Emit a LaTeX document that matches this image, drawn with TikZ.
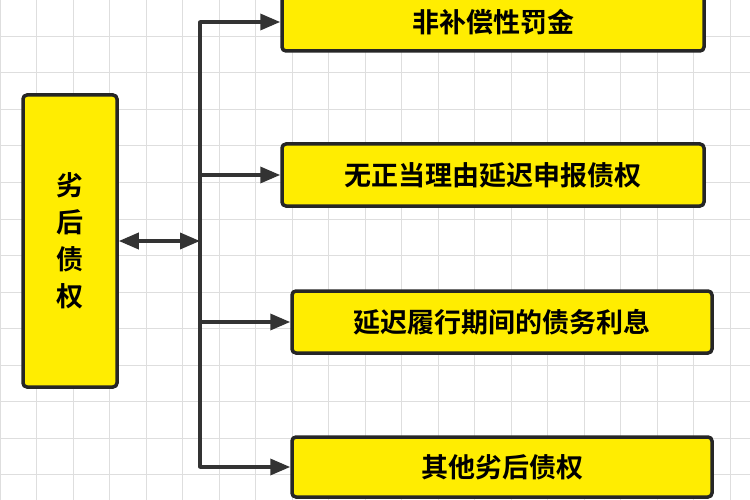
\documentclass[tikz,border=0pt]{standalone}
\usepackage{fontspec}
\newfontfamily\cjk[BoldFont={Noto Sans CJK SC Bold}]{Noto Sans CJK SC}
\usetikzlibrary{arrows.meta}
\begin{document}
\begin{tikzpicture}[x=1pt,y=-1pt,
  ybox/.style={draw=black!85,line width=3.5pt,fill=yellow!95!orange,rounded corners=4pt,font=\cjk\bfseries\fontsize{27}{31}\selectfont},
  tip/.style={Triangle[length=20pt,width=16pt]},
  conn/.style={line width=3.5pt,black!80,-{Triangle[length=20pt,width=16pt]}}]
\useasboundingbox (0,0) rectangle (750,500);
\fill[white] (0,0) rectangle (750,500);
\foreach \i in {0,...,21} {\draw[black!13,line width=1pt] (\i*36.5,0) -- (\i*36.5,500);}
\foreach \j in {0,...,14} {\draw[black!13,line width=1pt] (0,\j*36.5) -- (750,\j*36.5);}
\node[ybox,minimum width=94pt,minimum height=292pt,align=center] (L) at (70,241) {劣\\[6pt]后\\[6pt]债\\[6pt]权};
\node[ybox,minimum width=422pt,minimum height=58pt] (A) at (493,22) {非补偿性罚金};
\node[ybox,minimum width=422pt,minimum height=62pt] (B) at (493,175) {无正当理由延迟申报债权};
\node[ybox,minimum width=420pt,minimum height=62pt] (C) at (502,322) {延迟履行期间的债务利息};
\node[ybox,minimum width=420pt,minimum height=60pt] (D) at (502,467) {其他劣后债权};
\coordinate (J) at (200,241);
\coordinate (T) at (200,22);
\coordinate (Bt) at (200,467);
\draw[line width=3.5pt,black!80,line cap=round] (T) -- (Bt);
\draw[conn] (T) -- (A.west);
\draw[conn] (200,175) -- (B.west);
\draw[conn] (200,322) -- (C.west);
\draw[conn] (Bt) -- (D.west);
\draw[line width=3.5pt,black!80,{Triangle[length=20pt,width=16pt]}-{Triangle[length=20pt,width=16pt]}] (L.east |- J) -- (J);
\end{tikzpicture}
\end{document}
